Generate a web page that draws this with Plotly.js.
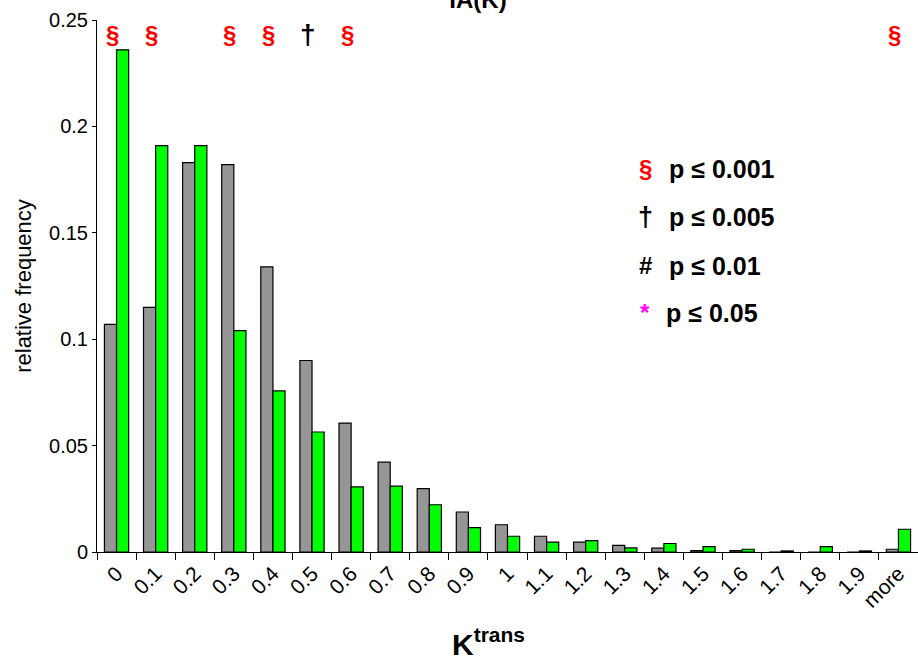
<!DOCTYPE html>
<html>
<head>
<meta charset="utf-8">
<script src="https://cdn.plot.ly/plotly-3.0.1.min.js"></script>
<style>html,body{margin:0;padding:0;background:#fff;}#chart{width:918px;height:668px;}</style>
</head>
<body>
<div id="chart"></div>
<script>
const categories = ['0','0.1','0.2','0.3','0.4','0.5','0.6','0.7','0.8','0.9','1','1.1','1.2','1.3','1.4','1.5','1.6','1.7','1.8','1.9','more'];
const grayValues = [0.107,0.115,0.183,0.182,0.134,0.090,0.0606,0.0422,0.0298,0.0188,0.0128,0.0074,0.0046,0.0031,0.0018,0.0006,0.0006,0,0,0,0.0013];
const greenValues = [0.236,0.191,0.191,0.104,0.0757,0.0564,0.0306,0.031,0.0222,0.0115,0.0074,0.0046,0.0053,0.0019,0.004,0.0025,0.0013,0.0005,0.0025,0.0005,0.0107];
const markCategories = ['0','0.1','0.3','0.4','0.5','0.6','more'];
const markSymbols = ['§','§','§','§','†','§','§'];
const markColors = ['#ff0000','#ff0000','#ff0000','#ff0000','#000000','#ff0000','#ff0000'];
const legendSymbols = ['§','†','#','*'];
const legendSymbolColors = ['#ff0000','#000000','#000000','#ff00ff'];
const legendTexts = ['p ≤ 0.001','p ≤ 0.005','p ≤ 0.01','p ≤ 0.05'];

const FONT = 'Arial, "Liberation Sans", sans-serif';

const traces = [
  {type:'bar', x:categories, y:grayValues, name:'gray',
   marker:{color:'#969696', line:{color:'#000000', width:1.2}}, hoverinfo:'skip'},
  {type:'bar', x:categories, y:greenValues, name:'green',
   marker:{color:'#00ff00', line:{color:'#000000', width:1.2}}, hoverinfo:'skip'}
];

const annotations = [];
markCategories.forEach((c,i)=>{
  const isDagger = markSymbols[i] === '†';
  annotations.push({x:categories.indexOf(c), xref:'x', xshift:-4, y:0.972, yref:'paper', yanchor:'middle',
    text:'<b>'+markSymbols[i]+'</b>', showarrow:false,
    font:{family:FONT, size:isDagger?28:24, color:markColors[i]}});
});
const legendY = [0.72, 0.63, 0.538, 0.45];
legendSymbols.forEach((s,i)=>{
  annotations.push({x:(645-97)/821, xref:'paper', y:legendY[i], yref:'paper', xanchor:'center', yanchor:'middle',
    text:'<b>'+s+'</b>', showarrow:false, font:{family:FONT, size:s==='†'?27:24, color:legendSymbolColors[i]}});
  annotations.push({x:((i===3?664:667)-97)/821, xref:'paper', y:legendY[i], yref:'paper', xanchor:'left', yanchor:'middle',
    text:'<b>'+legendTexts[i]+'</b>', showarrow:false, font:{family:FONT, size:25, color:'#000000'}});
});
annotations.push({x:(488-97)/821, xref:'paper', y:(552-642)/532, yref:'paper', xanchor:'center', yanchor:'middle',
  text:'<b>K<sup>trans</sup></b>', showarrow:false, font:{family:FONT, size:30, color:'#000000'}});

const layout = {
  width:918, height:668,
  margin:{l:97, r:0, t:20, b:116, pad:0},
  paper_bgcolor:'#ffffff', plot_bgcolor:'#ffffff',
  showlegend:false,
  barmode:'group', bargap:0.38, bargroupgap:0,
  title:{text:'<b>IA(K)</b>', font:{family:FONT, size:24, color:'#000000'}, x:478/918, xanchor:'center', y:1, yref:'container', yanchor:'middle'},
  font:{family:FONT, color:'#000000'},
  xaxis:{type:'category', tickson:'boundaries', ticks:'outside', ticklen:7, tickcolor:'#000000', tickwidth:1,
    showline:true, linecolor:'#000000', linewidth:1, showgrid:false, zeroline:false,
    tickangle:-45, tickfont:{family:FONT, size:21, color:'#000000'}, automargin:false},
  yaxis:{range:[0,0.25], dtick:0.05, ticks:'outside', ticklen:4, tickcolor:'#000000', tickwidth:1,
    showline:true, linecolor:'#000000', linewidth:1, showgrid:false, zeroline:false,
    tickfont:{family:FONT, size:20, color:'#000000'}, automargin:false,
    title:{text:'relative frequency', font:{family:FONT, size:22, color:'#000000'}, standoff:11}},
  annotations:annotations
};

Plotly.newPlot('chart', traces, layout, {displayModeBar:false, staticPlot:true});
</script>
</body>
</html>
